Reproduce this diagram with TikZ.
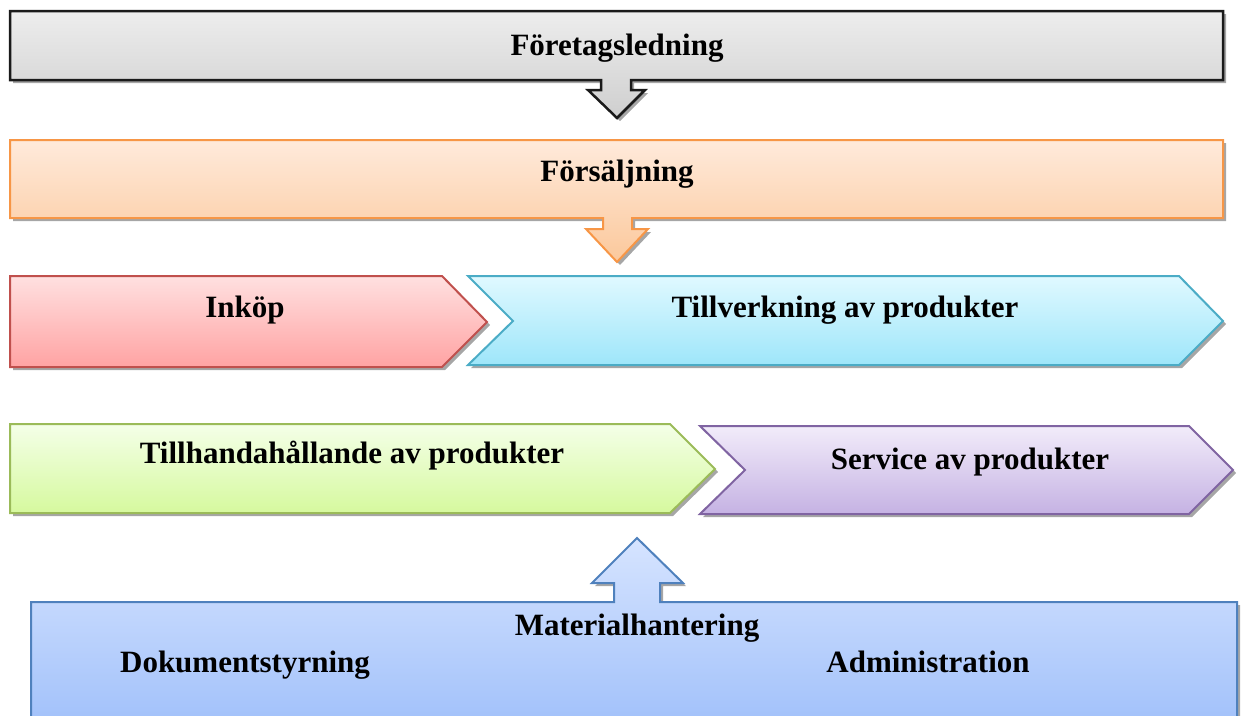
\documentclass[tikz,border=0pt]{standalone}
\usepackage{fontspec}
\setmainfont{Liberation Serif}
\usetikzlibrary{shadows}
\tikzset{
  label/.style={anchor=base,font=\fontsize{31}{37}\selectfont\bfseries},
  shade/.style={drop shadow={shadow xshift=3pt,shadow yshift=-3pt,fill=black!35,opacity=1}},
}
\definecolor{grayline}{HTML}{1A1A1A}
\definecolor{orangeline}{HTML}{F79646}
\definecolor{redline}{HTML}{C0504D}
\definecolor{cyanline}{HTML}{4BACC6}
\definecolor{greenline}{HTML}{9BBB59}
\definecolor{purpleline}{HTML}{8064A2}
\definecolor{blueline}{HTML}{4F81BD}

\begin{document}
\begin{tikzpicture}[x=1pt,y=-1pt]
            \useasboundingbox (0,0) rectangle (1244,715);
            % boxes
            \draw[shade,line width=2.5pt,draw=grayline,top color=black!7,bottom color=black!19]
                (10,11) -- (1223,11) -- (1223,80) -- (631,80) -- (631,90) -- (645,90) -- (617,118)
                -- (588,90) -- (601,90) -- (601,80) -- (10,80) -- cycle;
            \draw[shade,line width=2pt,draw=orangeline,top color={rgb,255:red,255;green,234;blue,219},bottom color={rgb,255:red,251;green,200;blue,155}]
                (10,140) -- (1223,140) -- (1223,218) -- (632,218) -- (632,229) -- (648,229) -- (617,262)
                -- (586,229) -- (603,229) -- (603,218) -- (10,218) -- cycle;
            \draw[shade,line width=2pt,draw=redline,top color={rgb,255:red,255;green,224;blue,224},bottom color={rgb,255:red,255;green,163;blue,163}]
                (10,276) -- (442,276) -- (487,322) -- (442,367) -- (10,367) -- cycle;
            \draw[shade,line width=2pt,draw=cyanline,top color={rgb,255:red,224;green,249;blue,255},bottom color={rgb,255:red,158;green,230;blue,250}]
                (468,276) -- (1179,276) -- (1223,321) -- (1179,365) -- (468,365) -- (513,321) -- cycle;
            \draw[shade,line width=2pt,draw=greenline,top color={rgb,255:red,244;green,255;blue,232},bottom color={rgb,255:red,214;green,249;blue,158}]
                (10,424) -- (670,424) -- (715,469) -- (670,513) -- (10,513) -- cycle;
            \draw[shade,line width=2pt,draw=purpleline,top color={rgb,255:red,242;green,236;blue,250},bottom color={rgb,255:red,197;green,178;blue,227}]
                (700,426) -- (1189,426) -- (1233,470) -- (1189,514) -- (700,514) -- (745,470) -- cycle;
            \draw[shade,line width=2pt,draw=blueline,top color={rgb,255:red,214;green,228;blue,255},bottom color={rgb,255:red,160;green,192;blue,250}]
                (31,602) -- (614,602) -- (614,583) -- (592,583) -- (637,538) -- (683,583) -- (660,583)
                -- (660,602) -- (1237,602) -- (1237,730) -- (31,730) -- cycle;
            % texts
            \node[label] (lead) at (617,55) {Företagsledning};
            \node[label] (sales) at (617,181) {Försäljning};
            \node[label] (purch) at (245,317) {Inköp};
            \node[label] (manuf) at (845,317) {Tillverkning av produkter};
            \node[label] (supply) at (352,463) {Tillhandahållande av produkter};
            \node[label] (service) at (970,469) {Service av produkter};
            \node[label] (matl) at (637,635) {Materialhantering};
            \node[label] (docs) at (245,672) {Dokumentstyrning};
            \node[label] (admin) at (928,672) {Administration};
        \end{tikzpicture}
\end{document}
